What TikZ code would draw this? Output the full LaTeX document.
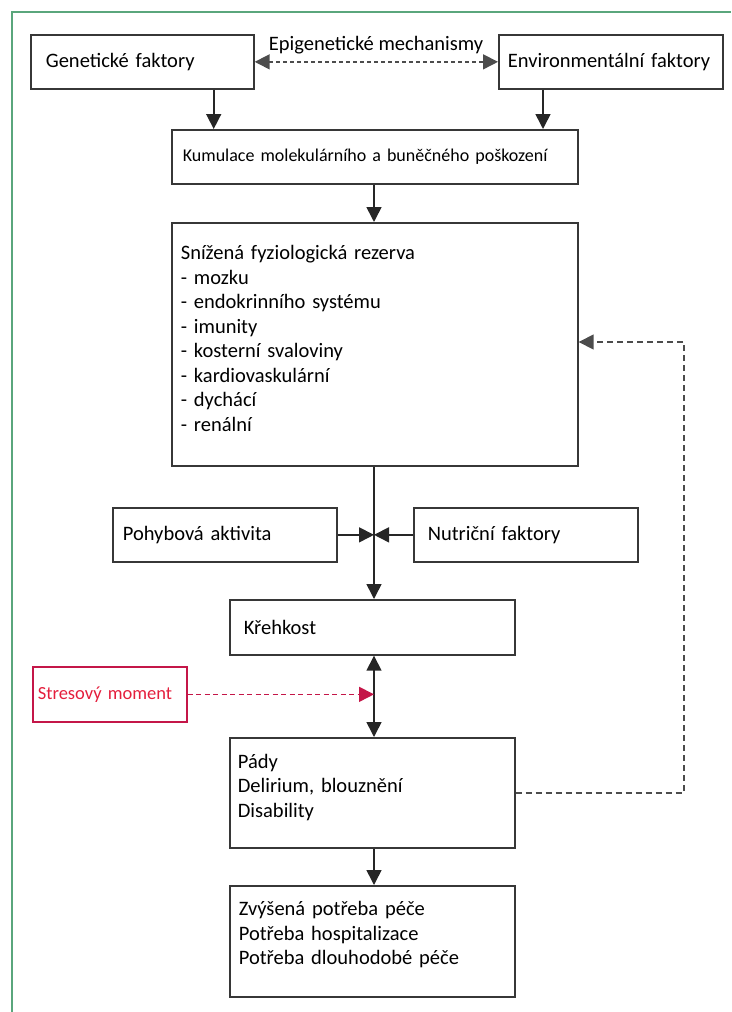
\documentclass[tikz,border=0pt]{standalone}
\usepackage{fontspec}
\setmainfont{Carlito}
\usepackage{tikz}
\usetikzlibrary{arrows.meta,calc}
\definecolor{framegreen}{RGB}{90,166,124}
\definecolor{boxgray}{RGB}{55,55,55}
\definecolor{stresred}{RGB}{196,22,72}
\definecolor{stresfont}{RGB}{228,30,60}
\newcommand{\ax}{374}

\begin{document}
\begin{tikzpicture}[x=1pt,y=-1pt,
  >={Triangle[length=15pt,width=15pt]},
  box/.style={draw=boxgray,line width=1.7pt,anchor=north west,align=left,inner ysep=0pt,
    font=\fontsize{20.5}{24.5}\selectfont},
  arr/.style={draw=black!85,line width=1.6pt,->},
  darr/.style={draw=black!70,line width=1.6pt,dash pattern=on 5pt off 3.5pt,->}]
\useasboundingbox (0,0) rectangle (731,1012);
\draw[framegreen,line width=1.8pt] (12,1012) -- (12,12) -- (731,12);
\coordinate (axis) at (\ax,0);

% top row
\node[box,inner xsep=15pt,text width=193pt,minimum height=54pt] (gen) at (30,34) {Genetické faktory};
\node[box,inner xsep=9pt,text width=206pt,minimum height=54pt] (env) at (498,34) {Environmentální faktory};
\node[font=\fontsize{20.5}{24.5}\selectfont] (epi) at (376,45) {Epigenetické mechanismy};
\draw[darr,<->,dash pattern=on 4pt off 3pt] (gen.east) -- (env.west);

\node[box,font=\fontsize{18}{22}\selectfont,inner xsep=11pt,text width=384pt,minimum height=54pt] (kum) at (171,129) {Kumulace molekulárního a buněčného poškození};
\coordinate (g1) at ($(gen.south east)+(-41,0)$);
\coordinate (e1) at ($(env.south west)+(45,0)$);
\draw[arr] (g1) -- (g1 |- kum.north);
\draw[arr] (e1) -- (e1 |- kum.north);

\node[box,inner xsep=9pt,text width=388pt,minimum height=243pt,text depth=183pt] (rez) at (171,222) {Snížená fyziologická rezerva\\- mozku\\- endokrinního systému\\- imunity\\- kosterní svaloviny\\- kardiovaskulární\\- dychácí\\- renální};
\draw[arr] (axis |- kum.south) -- (axis |- rez.north);

% modifying factors
\node[box,inner xsep=10pt,text width=204pt,minimum height=54pt] (pohyb) at (112,507) {Pohybová aktivita};
\node[box,inner xsep=14pt,text width=196pt,minimum height=54pt] (nutr) at (413,507) {Nutriční faktory};
\node[box,inner xsep=14pt,text width=257pt,minimum height=55pt] (kreh) at (229,599) {Křehkost};
\draw[arr] (axis |- rez.south) -- (axis |- kreh.north);
\draw[arr] (pohyb.east) -- (pohyb.east -| axis);
\draw[arr] (nutr.west) -- (nutr.west -| axis);

% outcomes
\node[box,draw=stresred,text=stresfont,font=\fontsize{18.5}{22}\selectfont,inner xsep=5pt,text width=144pt,minimum height=55pt] (stres) at (32,666) {Stresový moment};
\node[box,inner xsep=8pt,text width=269pt,minimum height=110pt,text depth=63pt] (pady) at (229,737) {Pády\\Delirium, blouznění\\Disability};
\node[box,inner xsep=9pt,text width=267pt,minimum height=111pt,text depth=65pt] (potr) at (229,885) {Zvýšená potřeba péče\\Potřeba hospitalizace\\Potřeba dlouhodobé péče};
\draw[arr,<->] (axis |- kreh.south) -- (axis |- pady.north);
\draw[darr,draw=stresred] (stres.east) -- (stres.east -| axis);
\draw[arr] (axis |- pady.south) -- (axis |- potr.north);

% feedback loop
\coordinate (fb) at (684,342);
\draw[darr,dash pattern=on 6pt off 4pt] (pady.east) -| (fb) -- (fb -| rez.east);
\end{tikzpicture}
\end{document}
